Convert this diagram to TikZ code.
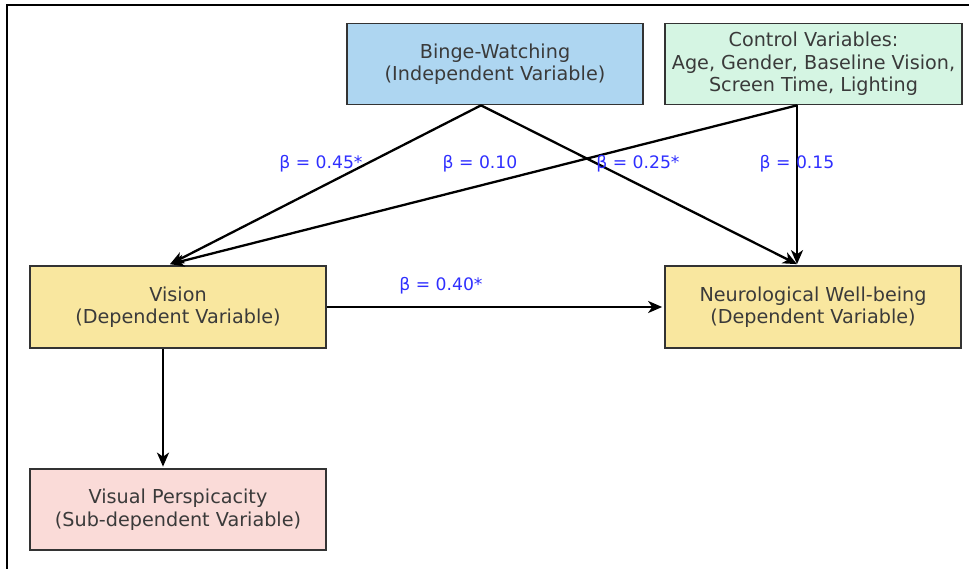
\documentclass[tikz,border=0pt]{standalone}
\usepackage{fontspec}
\setmainfont{DejaVu Sans}
\usetikzlibrary{arrows.meta}
\definecolor{indepfill}{HTML}{AED6F1}
\definecolor{ctrlfill}{HTML}{D5F5E3}
\definecolor{depfill}{HTML}{F9E79F}
\definecolor{subfill}{HTML}{FADBD8}
\definecolor{boxline}{HTML}{333333}
\definecolor{boxtext}{HTML}{3A3A3A}
\definecolor{coefblue}{HTML}{2F2FFF}
\tikzset{
  varbox/.style={draw=boxline, line width=1.7pt, rectangle, align=center,
    minimum width=296pt, minimum height=81pt, inner sep=0pt,
    text=boxtext, font=\fontsize{19.2}{22.5}\selectfont},
  link/.style={line width=2.3pt, -{Stealth[length=14pt,width=12pt,inset=4pt]}},
  coef/.style={text=coefblue, font=\fontsize{17.2}{19}\selectfont, inner sep=0pt}
}
\begin{document}
\begin{tikzpicture}[x=1pt,y=-1pt]
  \useasboundingbox (0,0) rectangle (969,569);
  % outer frame (top and left edges)
  \draw[line width=1.8pt] (7,569) -- (7,5) -- (969,5);

  % variables
  \node[varbox, fill=indepfill] (binge) at (495,64) {Binge-Watching\\(Independent Variable)};
  \node[varbox, fill=ctrlfill, minimum width=297pt] (ctrl) at (813.5,64)
    {Control Variables:\\Age, Gender, Baseline Vision,\\Screen Time, Lighting};
  \node[varbox, fill=depfill, minimum height=82pt] (vision) at (178,307) {Vision\\(Dependent Variable)};
  \node[varbox, fill=depfill, minimum height=82pt] (neuro) at (813,307) {Neurological Well-being\\(Dependent Variable)};
  \node[varbox, fill=subfill] (persp) at (178,509.5) {Visual Perspicacity\\(Sub-dependent Variable)};

  % attachment points on the box edges
  \coordinate (bingeOut) at ([xshift=-14pt]binge.south);
  \coordinate (ctrlOut) at ([xshift=-16.5pt]ctrl.south);
  \coordinate (visionIn) at ([xshift=-8pt,yshift=1pt]vision.north);
  \coordinate (neuroIn) at ([xshift=-16pt,yshift=1pt]neuro.north);
  \coordinate (visionDown) at ([xshift=-15pt]vision.south);
  \coordinate (perspIn) at ([xshift=-15pt,yshift=1.5pt]persp.north);

  % paths
  \draw[link] (bingeOut) -- (visionIn);
  \draw[link] (bingeOut) -- (neuroIn);
  \draw[link] (ctrlOut) -- (visionIn);
  \draw[link] (ctrlOut) -- (neuroIn);
  \draw[link] (vision.east) -- ([xshift=-2pt]neuro.west);
  \draw[link] (visionDown) -- (perspIn);

  % path coefficients
  \node[coef] (c1) at (321,164) {β = 0.45*};
  \node[coef] (c2) at (480,164) {β = 0.10};
  \node[coef] (c3) at (638,164) {β = 0.25*};
  \node[coef] (c4) at (797,164) {β = 0.15};
  \node[coef] (c5) at (441,286) {β = 0.40*};
\end{tikzpicture}
\end{document}
